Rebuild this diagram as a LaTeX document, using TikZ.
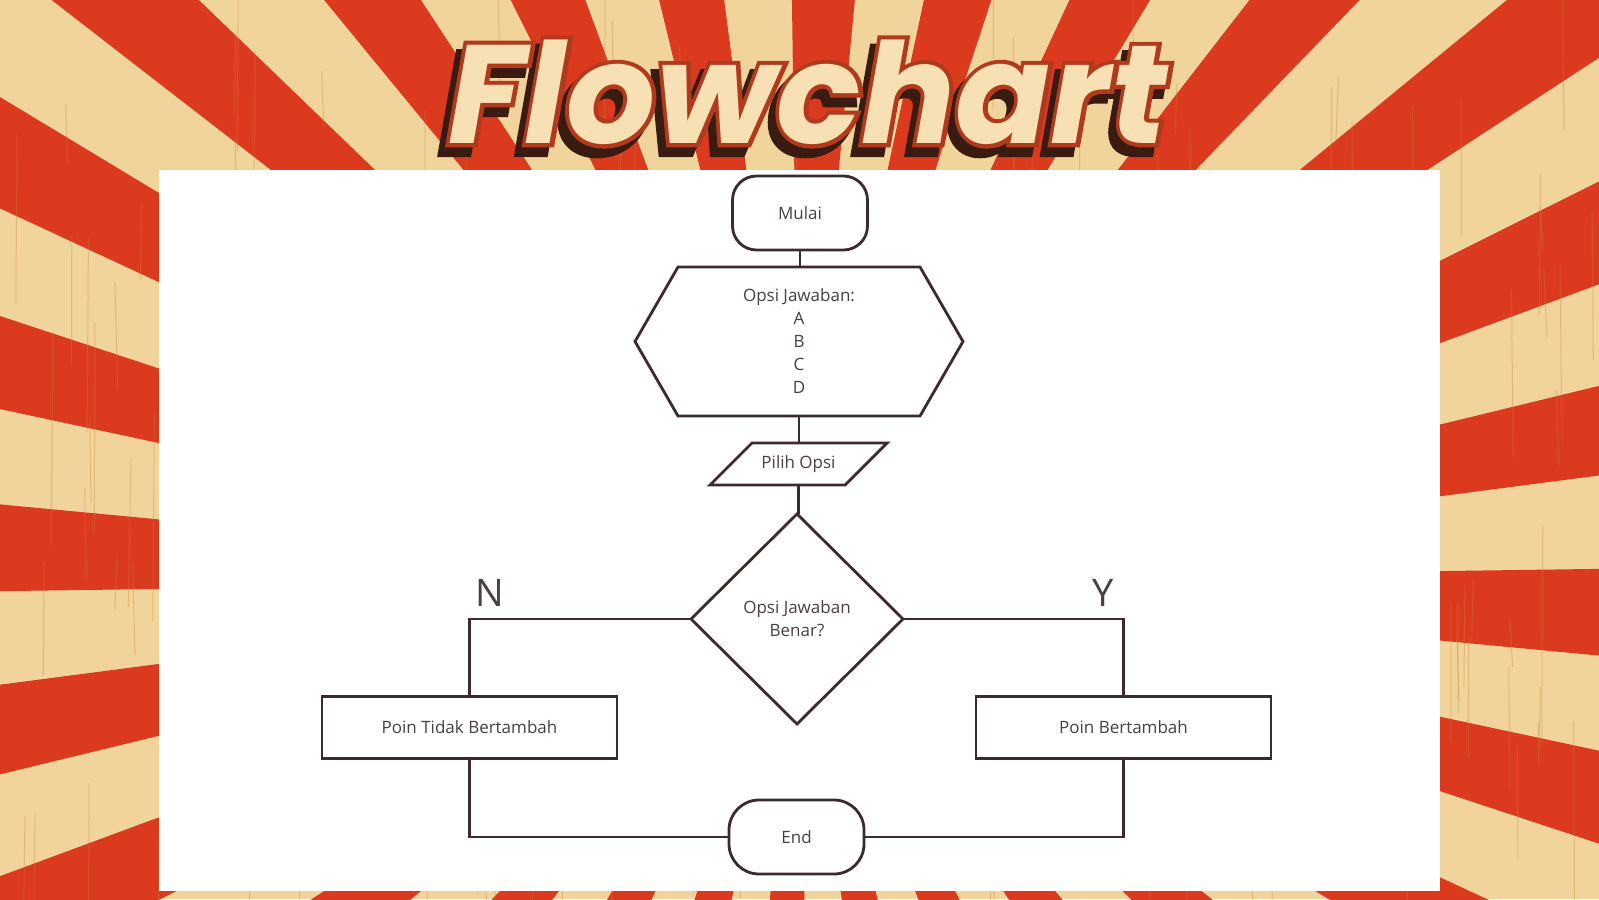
\documentclass[tikz,border=0pt]{standalone}
\usepackage{fontspec}
\setmainfont{Open Sans}
\newfontfamily\titlefont{Poppins}
\newfontfamily\titleredfont{Poppins}[BoldItalicFeatures={FakeBold=6}]
\newfontfamily\titleshadowfont{Poppins}[BoldItalicFeatures={FakeBold=7}]
\usetikzlibrary{shapes.geometric,calc}
\definecolor{rayred}{HTML}{DB3A1F}
\definecolor{raycream}{HTML}{F0D49B}
\definecolor{grain}{HTML}{C98532}
\definecolor{ink}{HTML}{3B2B2B}
\definecolor{txt}{HTML}{4A4040}
\definecolor{tcream}{HTML}{F6E0B4}
\definecolor{tred}{HTML}{B23A1C}
\definecolor{tshadow}{HTML}{3A1B12}
\begin{document}
\begin{tikzpicture}[x=0.5pt,y=-0.5pt,
  shp/.style={draw=ink,line width=1.4pt,text=txt,font=\fontsize{8.5}{11.5}\selectfont,align=center,inner sep=0pt,outer sep=0pt},
  term/.style={shp,rectangle,rounded corners=12pt,minimum width=67.5pt,minimum height=37pt},
  procbox/.style={shp,rectangle,minimum width=147.5pt,minimum height=31pt},
  plain/.style={text=txt,font=\fontsize{8.5}{11.5}\selectfont,align=center,inner sep=0pt,outer sep=0pt},
  conn/.style={draw=ink,line width=1.4pt},
  yn/.style={text=txt,font=\fontsize{19}{19}\selectfont,inner sep=0pt},
  titletext/.style={font=\titlefont\bfseries\itshape\fontsize{70}{70}\selectfont,inner sep=0pt},
  titlered/.style={font=\titleredfont\bfseries\itshape\fontsize{70}{70}\selectfont,inner sep=0pt},
  titleshadow/.style={font=\titleshadowfont\bfseries\itshape\fontsize{70}{70}\selectfont,inner sep=0pt}
]
\useasboundingbox (0,0) rectangle (1599,899);
\clip (0,0) rectangle (1599,899);
% background sunburst
\fill[raycream] (0,0) rectangle (1599,899);
\coordinate (c) at (800,580);
\foreach \k in {0,...,27}{
  \pgfmathsetmacro\a{-(177.7+12.857*\k)}
  \fill[rayred] (c) -- ($(c)+(\a+3.1:2500)$) -- ($(c)+(\a-3.1:2500)$) -- cycle;
}
% wood grain
\pgfmathsetseed{12}
\foreach \i in {1,...,170}{
  \pgfmathsetmacro\gx{rnd*1599}
  \pgfmathsetmacro\gy{rnd*899-60}
  \pgfmathsetmacro\gl{40+rnd*180}
  \pgfmathsetmacro\gd{rnd*6-3}
  \draw[grain,opacity=0.35,line width=0.5pt] (\gx,\gy) -- ++(\gd,\gl);
}
% white panel
\fill[white] (159,170) rectangle (1440,891);
% title: shadow, red outline, cream face
\node[titleshadow,text=tshadow] (titleshadow) at (801,101) {Flowchart};
\node[titlered,text=tred] (titleoutline) at (808,92) {Flowchart};
\node[titletext,text=tcream] (title) at (808,92) {Flowchart};
% flowchart nodes
\node[term] (mulai) at (800,213) {Mulai};
\node[plain,minimum width=164pt,minimum height=74.5pt] (hex) at (799,341.5) {Opsi Jawaban:\\A\\B\\C\\D};
\draw[conn] (hex.west) -- ($(hex.north west)+(43,0)$) -- ($(hex.north east)+(-43,0)$) -- (hex.east) -- ($(hex.south east)+(-43,0)$) -- ($(hex.south west)+(43,0)$) -- cycle;
\node[plain,minimum width=67.5pt,minimum height=21pt] (pilih) at (798.5,464) {Pilih Opsi};
\draw[conn] ($(pilih.north west)+(21,0)$) -- ($(pilih.north east)+(21,0)$) -- ($(pilih.south east)+(-21,0)$) -- ($(pilih.south west)+(-21,0)$) -- cycle;
\node[shp,diamond,minimum width=106pt,minimum height=105pt] (dec) at (797,619) {Opsi Jawaban\\Benar?};
\node[procbox] (nbox) at (469.5,727.5) {Poin Tidak Bertambah};
\node[procbox] (ybox) at (1123.5,727.5) {Poin Bertambah};
\node[term,rounded corners=15pt] (end) at (796.5,837) {End};
\node[yn] (nlab) at (489.5,592.5) {N};
\node[yn] (ylab) at (1103.5,592.5) {Y};
% connectors
\draw[conn] (mulai.south) -- (mulai.south |- hex.north);
\draw[conn] (hex.south) -- (hex.south |- pilih.north);
\draw[conn] (pilih.south) -- (pilih.south |- dec.north);
\draw[conn] (dec.west) -| (nbox.north);
\draw[conn] (dec.east) -| (ybox.north);
\draw[conn] (nbox.south) |- (end.west);
\draw[conn] (ybox.south) |- (end.east);
\end{tikzpicture}
\end{document}
